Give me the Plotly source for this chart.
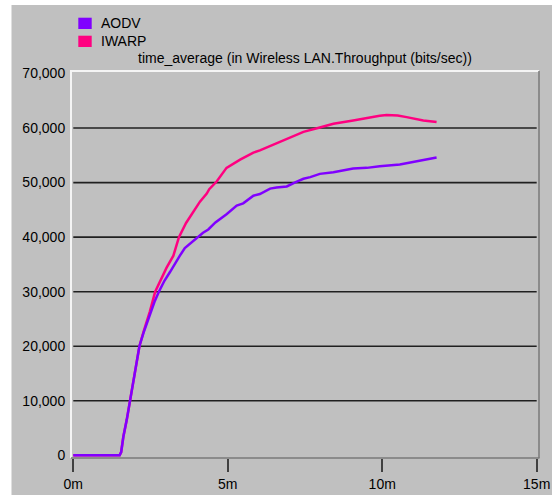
import plotly.graph_objects as go

series_names = ["AODV", "IWARP"]
series_colors = ["#8000FF", "#FF0080"]

aodv_t = [0, 1.50, 1.55, 1.62, 1.73, 1.84, 1.94, 2.14, 2.27, 2.48, 2.64, 2.77, 2.95, 3.13,
          3.29, 3.45, 3.61, 3.88, 4.00, 4.20, 4.37, 4.60, 4.96, 5.29, 5.50, 5.83, 6.04,
          6.37, 6.58, 6.91, 7.20, 7.45, 7.67, 7.98, 8.42, 9.06, 9.50, 9.92, 10.57, 11.00,
          11.33, 11.76]
aodv_v = [0, 0, 600, 3400, 6500, 10000, 13200, 20000, 22400, 25800, 28300, 30000, 32000, 33600,
          35200, 36600, 38000, 39300, 40000, 40800, 41400, 42700, 44200, 45800, 46200, 47600, 47900,
          48900, 49100, 49300, 50100, 50700, 51000, 51600, 51900, 52600, 52700, 53000, 53300, 53800,
          54100, 54600]

iwarp_t = [0, 1.50, 1.55, 1.62, 1.73, 1.84, 1.94, 2.14, 2.27, 2.48, 2.65, 2.84, 3.02, 3.24,
           3.42, 3.65, 3.88, 4.10, 4.32, 4.40, 4.64, 4.96, 5.40, 5.83, 6.04, 6.58, 6.91,
           7.12, 7.45, 7.98, 8.42, 9.06, 9.50, 9.92, 10.14, 10.50, 10.79, 11.33, 11.76]
iwarp_v = [0, 0, 600, 3400, 6500, 10000, 13200, 20000, 22600, 26400, 30000, 32300, 34400, 36600,
           40000, 42600, 44600, 46500, 48000, 48800, 50200, 52700, 54200, 55500, 55900, 57200, 57900,
           58500, 59300, 60100, 60800, 61400, 61900, 62250, 62400, 62300, 62000, 61400, 61100]

x_tick_vals = [0, 5, 10, 15]
x_tick_text = ["0m", "5m", "10m", "15m"]
y_tick_vals = [0, 10000, 20000, 30000, 40000, 50000, 60000, 70000]
grid_vals = [10000, 20000, 30000, 40000, 50000, 60000]
title_text = "time_average (in Wireless LAN.Throughput (bits/sec))"

W, H = 552, 495
L, R, T, B = 71, 13, 71, 37
PW, PH = W - L - R, H - T - B


def px(xp):
    return (xp - L) / PW


def py(yp):
    return (H - B - yp) / PH


FONT = "Liberation Sans"
fig = go.Figure()
fig.add_trace(go.Scatter(x=iwarp_t, y=iwarp_v, mode="lines", name=series_names[1],
                         line=dict(color=series_colors[1], width=2.5), showlegend=False))
fig.add_trace(go.Scatter(x=aodv_t, y=aodv_v, mode="lines", name=series_names[0],
                         line=dict(color=series_colors[0], width=2.5), showlegend=False))

shapes = []
# gray panel
shapes.append(dict(type="rect", xref="paper", yref="paper", x0=px(11.5), x1=px(W + 2),
                   y0=py(H + 2), y1=py(5), fillcolor="#c0c0c0", line=dict(width=0), layer="below"))
for g in grid_vals:
    shapes.append(dict(type="line", xref="x", yref="y", x0=0, x1=15, y0=g, y1=g,
                       line=dict(color="#202020", width=1.6), layer="below"))
# frame
shapes.append(dict(type="line", xref="paper", yref="paper", x0=px(70), x1=px(539), y0=py(71), y1=py(71),
                   line=dict(color="#f4f4f4", width=2)))
shapes.append(dict(type="line", xref="paper", yref="paper", x0=px(71), x1=px(71), y0=py(71), y1=py(458),
                   line=dict(color="#f4f4f4", width=2)))
shapes.append(dict(type="line", xref="paper", yref="paper", x0=px(539), x1=px(539), y0=py(71), y1=py(458),
                   line=dict(color="#7a7a7a", width=1.5)))
shapes.append(dict(type="line", xref="paper", yref="paper", x0=px(71), x1=px(539.5), y0=py(458), y1=py(458),
                   line=dict(color="#7a7a7a", width=1.5)))
# legend squares
legend_y = [(17.7, 29.0), (35.7, 47.0)]
annotations = []
for i, name in enumerate(series_names):
    y0, y1 = legend_y[i]
    shapes.append(dict(type="rect", xref="paper", yref="paper", x0=px(78.3), x1=px(91.7),
                       y0=py(y1), y1=py(y0), fillcolor=series_colors[i], line=dict(width=0)))
    annotations.append(dict(x=px(98.5), y=py((y0 + y1) / 2), xref="paper", yref="paper",
                            text=name, showarrow=False, xanchor="left", yanchor="middle",
                            font=dict(family=FONT, size=14, color="#000")))
annotations.append(dict(x=0.5, y=py(58.3), xref="paper", yref="paper", text=title_text,
                        showarrow=False, xanchor="center", yanchor="middle",
                        font=dict(family=FONT, size=14, color="#000")))

fig.update_layout(
    width=W, height=H,
    margin=dict(l=L, r=R, t=T, b=B, pad=0, autoexpand=False),
    paper_bgcolor="#ffffff", plot_bgcolor="#c0c0c0",
    shapes=shapes, annotations=annotations,
    font=dict(family=FONT, size=14, color="#000"),
    xaxis=dict(range=[-0.0745, 15.075], tickvals=x_tick_vals, ticktext=x_tick_text,
               ticks="outside", ticklen=13, tickwidth=2, tickcolor="#404040",
               showgrid=False, zeroline=False, showline=False, fixedrange=True,
               automargin=False,
               tickfont=dict(family=FONT, size=14, color="#000")),
    yaxis=dict(range=[-495, 70460], tickvals=y_tick_vals, tickformat=",d",
               ticks="outside", ticklen=2, tickcolor="rgba(0,0,0,0)",
               showgrid=False, zeroline=False, showline=False, fixedrange=True,
               automargin=False,
               tickfont=dict(family=FONT, size=14, color="#000")),
    showlegend=False,
)

fig.write_html("out.html", config={"displayModeBar": False},
               post_script="document.body.style.margin='0';document.body.style.overflow='hidden';")
